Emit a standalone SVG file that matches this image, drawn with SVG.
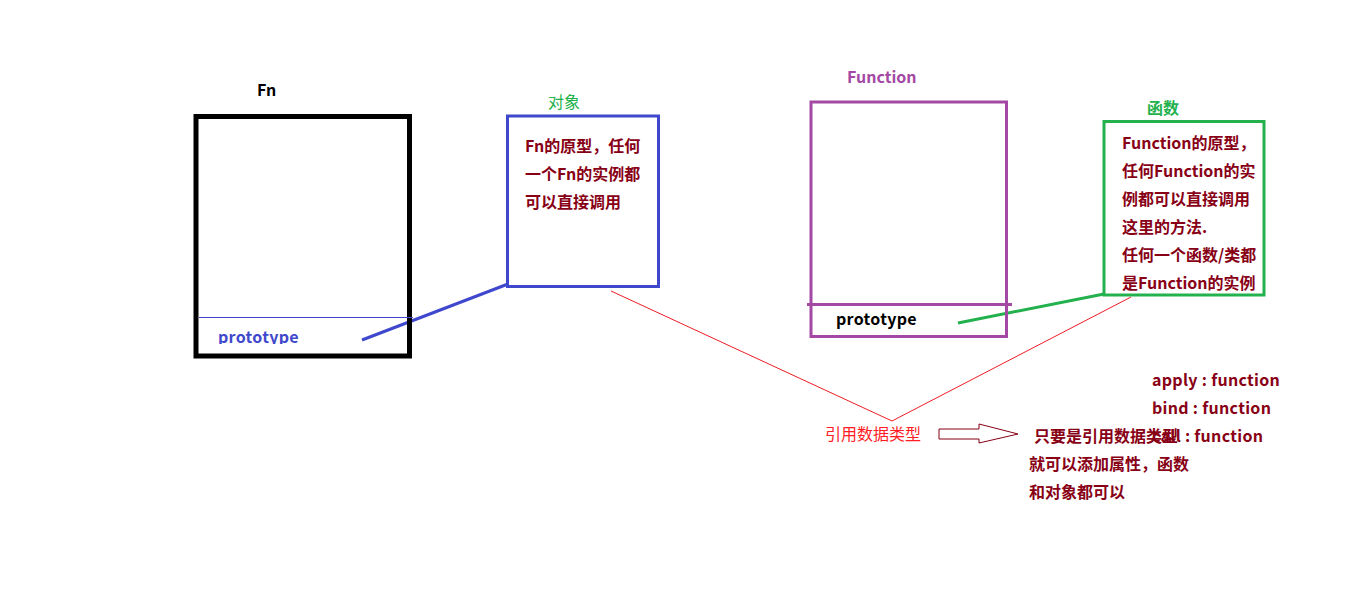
<svg xmlns="http://www.w3.org/2000/svg" width="1360" height="591" viewBox="0 0 1360 591">
<style>
text{font-family:"Noto Sans CJK SC","Liberation Sans",sans-serif;font-size:16px;font-weight:bold}
.dr{fill:#880015}
.lat{letter-spacing:0.3px}
.box{fill:none}
</style>
<defs>
<clipPath id="clipFn"><rect x="198" y="320" width="210" height="24"/></clipPath>
</defs>
<rect width="1360" height="591" fill="#fff"/>
<g id="connectors">
<line x1="362" y1="340" x2="508" y2="284" stroke="#3f48cc" stroke-width="3"/>
<polyline points="611,291 892,421 1131,297" fill="none" stroke="#ed1c24" stroke-width="1"/>
<line x1="958" y1="323" x2="1104" y2="294" stroke="#22b14c" stroke-width="3"/>
<path d="M939,429 H979 V424 L1018,434 L979,443 V439 H939 Z" fill="none" stroke="#880015" stroke-width="1"/>
</g>
<g id="fn">
<text x="257" y="96" fill="#000">Fn</text>
<rect class="box" x="196" y="116.5" width="213.5" height="239.5" stroke="#000" stroke-width="5"/>
<line x1="199" y1="317.5" x2="413" y2="317.5" stroke="#3f48cc" stroke-width="1"/>
<text class="lat" x="218" y="343" fill="#3f48cc" clip-path="url(#clipFn)">prototype</text>
</g>
<g id="object">
<text x="548" y="108" fill="#22b14c" style="font-weight:normal">对象</text>
<rect class="box" x="507.5" y="116" width="151" height="170.5" stroke="#3f48cc" stroke-width="3"/>
<text class="dr" x="525" y="152">Fn的原型，任何</text>
<text class="dr" x="525" y="180">一个Fn的实例都</text>
<text class="dr" x="525" y="208">可以直接调用</text>
</g>
<g id="function">
<text x="847" y="83" fill="#a349a4">Function</text>
<rect class="box" x="811" y="102" width="195.5" height="234.5" stroke="#a349a4" stroke-width="3"/>
<line x1="807" y1="304.5" x2="1012" y2="304.5" stroke="#a349a4" stroke-width="3"/>
<text class="lat" x="836" y="325" fill="#000">prototype</text>
</g>
<g id="hanshu">
<text x="1147" y="114" fill="#22b14c">函数</text>
<rect class="box" x="1104" y="121.5" width="160" height="173.5" stroke="#22b14c" stroke-width="3"/>
<text class="dr" x="1122" y="149">Function的原型，</text>
<text class="dr" x="1122" y="177">任何Function的实</text>
<text class="dr" x="1122" y="205">例都可以直接调用</text>
<text class="dr" x="1122" y="233">这里的方法.</text>
<text class="dr" x="1122" y="261">任何一个函数/类都</text>
<text class="dr" x="1122" y="289">是Function的实例</text>
</g>
<g id="methods">
<text class="dr lat" x="1152" y="386">apply : function</text>
<text class="dr lat" x="1152" y="414">bind : function</text>
<text class="dr lat" x="1152" y="442">call : function</text>
</g>
<g id="reftype">
<text x="825" y="440" fill="#ff1c24" style="font-weight:normal">引用数据类型</text>
</g>
<g id="note">
<text class="dr" x="1034" y="442">只要是引用数据类型</text>
<text class="dr" x="1029" y="470">就可以添加属性，函数</text>
<text class="dr" x="1029" y="498">和对象都可以</text>
</g>
</svg>
